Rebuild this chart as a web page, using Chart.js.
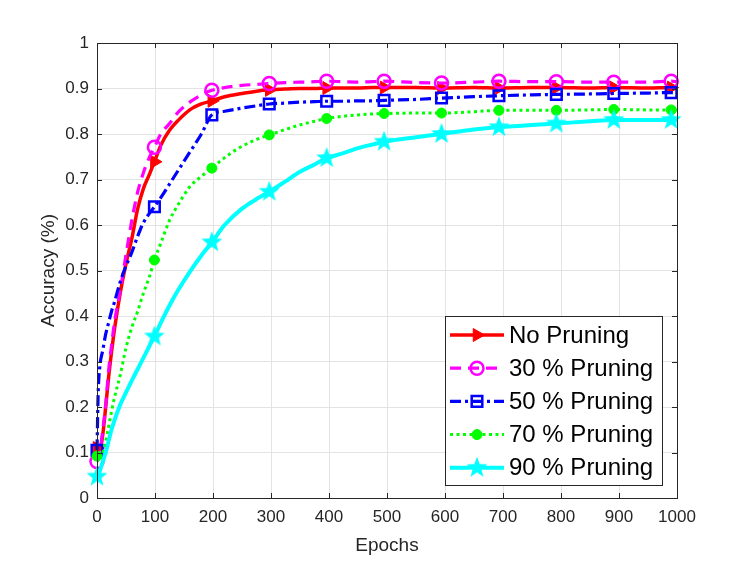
<!DOCTYPE html>
<html>
<head>
<meta charset="utf-8">
<script src="https://cdn.jsdelivr.net/npm/chart.js@4.4.0/dist/chart.umd.min.js"></script>
<style>
  body { margin: 0; background: #fff; }
  #wrap { width: 747px; height: 561px; }
</style>
</head>
<body>
<div id="wrap"><canvas id="accChart" width="747" height="561"></canvas></div>
<script>
// Values
const epochs = [0, 2, 5, 10, 15, 20, 25, 30, 40, 50, 60, 70, 80, 90, 99, 110, 125, 140, 160, 180, 198, 220, 250, 275, 297, 325, 350, 375, 396, 425, 450, 475, 495, 550, 594, 650, 693, 750, 792, 850, 891, 950, 990, 1000];

const noPruning = [0.11, 0.11, 0.108, 0.14, 0.2, 0.265, 0.32, 0.37, 0.45, 0.515, 0.57, 0.635, 0.68, 0.71, 0.739, 0.775, 0.808, 0.83, 0.853, 0.866, 0.873, 0.882, 0.889, 0.894, 0.897, 0.899, 0.9, 0.9, 0.901, 0.901, 0.901, 0.902, 0.902, 0.902, 0.901, 0.902, 0.901, 0.902, 0.902, 0.901, 0.902, 0.901, 0.902, 0.902];
const pruning30 = [0.08, 0.085, 0.1, 0.15, 0.205, 0.28, 0.335, 0.385, 0.455, 0.535, 0.61, 0.672, 0.715, 0.748, 0.771, 0.8, 0.823, 0.848, 0.87, 0.886, 0.896, 0.902, 0.907, 0.909, 0.911, 0.913, 0.914, 0.915, 0.916, 0.915, 0.914, 0.915, 0.916, 0.913, 0.912, 0.914, 0.916, 0.915, 0.915, 0.914, 0.914, 0.914, 0.916, 0.915];
const pruning50 = [0.105, 0.23, 0.29, 0.325, 0.36, 0.385, 0.41, 0.43, 0.475, 0.51, 0.54, 0.575, 0.605, 0.625, 0.64, 0.66, 0.69, 0.72, 0.76, 0.8, 0.842, 0.85, 0.857, 0.862, 0.866, 0.868, 0.87, 0.871, 0.872, 0.872, 0.873, 0.873, 0.874, 0.876, 0.879, 0.882, 0.884, 0.886, 0.887, 0.888, 0.889, 0.89, 0.891, 0.891];
const pruning70 = [0.092, 0.093, 0.095, 0.1, 0.125, 0.157, 0.19, 0.22, 0.27, 0.33, 0.375, 0.41, 0.45, 0.485, 0.523, 0.56, 0.61, 0.645, 0.684, 0.707, 0.725, 0.748, 0.773, 0.788, 0.798, 0.81, 0.82, 0.828, 0.834, 0.839, 0.842, 0.844, 0.845, 0.846, 0.846, 0.849, 0.852, 0.852, 0.852, 0.853, 0.854, 0.853, 0.853, 0.853];
const pruning90 = [0.047, 0.05, 0.06, 0.08, 0.1, 0.125, 0.15, 0.17, 0.205, 0.232, 0.258, 0.283, 0.308, 0.333, 0.355, 0.385, 0.423, 0.457, 0.497, 0.533, 0.562, 0.6, 0.636, 0.657, 0.673, 0.696, 0.717, 0.733, 0.747, 0.758, 0.769, 0.777, 0.783, 0.793, 0.8, 0.81, 0.815, 0.82, 0.823, 0.828, 0.831, 0.831, 0.831, 0.83];

const seriesLabels = ['No Pruning', '30 % Pruning', '50 % Pruning', '70 % Pruning', '90 % Pruning'];
const xTicks = [0, 100, 200, 300, 400, 500, 600, 700, 800, 900, 1000];
const yTicks = [0, 0.1, 0.2, 0.3, 0.4, 0.5, 0.6, 0.7, 0.8, 0.9, 1];

const markerEvery = 99;
const textColor = '#262626';
const font = 'Liberation Sans, Arial, Helvetica, sans-serif';

// filled five point star, like the MATLAB pentagram marker
function makeStar(color, r) {
    const c = document.createElement('canvas');
    const size = Math.ceil(r * 2 + 2);
    c.width = size;
    c.height = size;
    const g = c.getContext('2d');
    const inner = r * 0.42;
    g.beginPath();
    for (let i = 0; i < 10; i++) {
        const rad = i % 2 === 0 ? r : inner;
        const a = -Math.PI / 2 + i * Math.PI / 5;
        const px = size / 2 + rad * Math.cos(a);
        const py = size / 2 + rad * Math.sin(a);
        if (i === 0) g.moveTo(px, py); else g.lineTo(px, py);
    }
    g.closePath();
    g.fillStyle = color;
    g.fill();
    return c;
}
const starImg = makeStar('#00ffff', 11);

const styles = [
    { color: '#ff0000', width: 3.5, dash: [], point: 'triangle', rot: 90, radius: 7.5, fill: '#ff0000', bw: 1 },
    { color: '#ff00ff', width: 3.2, dash: [11, 7], point: 'circle', rot: 0, radius: 6.5, fill: 'rgba(0,0,0,0)', bw: 2.5 },
    { color: '#0000ff', width: 3.2, dash: [11, 4, 3, 4], point: 'rect', rot: 0, radius: 7.5, fill: 'rgba(0,0,0,0)', bw: 2.5 },
    { color: '#00ff00', width: 3, dash: [3, 3.5], point: 'circle', rot: 0, radius: 5, fill: '#00ff00', bw: 1 },
    { color: '#00ffff', width: 4, dash: [], point: starImg, rot: 0, radius: 10, fill: '#00ffff', bw: 1 }
];

const allSeries = [noPruning, pruning30, pruning50, pruning70, pruning90];

const datasets = allSeries.map((vals, i) => {
    const s = styles[i];
    return {
        label: seriesLabels[i],
        data: vals.map((v, j) => ({ x: epochs[j], y: v })),
        borderColor: s.color,
        backgroundColor: s.fill,
        borderWidth: s.width,
        borderDash: s.dash,
        pointStyle: s.point,
        pointRotation: s.rot,
        pointBorderColor: s.color,
        pointBackgroundColor: s.fill,
        pointBorderWidth: s.bw,
        pointRadius: ctx => (epochs[ctx.dataIndex] % markerEvery === 0 ? s.radius : 0),
        pointHoverRadius: 0,
        cubicInterpolationMode: 'monotone',
        fill: false,
        clip: false,
        order: allSeries.length - i
    };
});

// box with inward ticks on all four sides
const framePlugin = {
    id: 'frame',
    afterDatasetsDraw(chart) {
        const { ctx, chartArea: a, scales } = chart;
        ctx.save();
        ctx.strokeStyle = textColor;
        ctx.lineWidth = 1;
        ctx.setLineDash([]);
        ctx.strokeRect(a.left + 0.5, a.top + 0.5, a.right - a.left, a.bottom - a.top);
        const len = 5;
        ctx.beginPath();
        xTicks.forEach(v => {
            const px = Math.round(scales.x.getPixelForValue(v)) + 0.5;
            ctx.moveTo(px, a.bottom); ctx.lineTo(px, a.bottom - len);
            ctx.moveTo(px, a.top); ctx.lineTo(px, a.top + len);
        });
        yTicks.forEach(v => {
            const py = Math.round(scales.y.getPixelForValue(v)) + 0.5;
            ctx.moveTo(a.left, py); ctx.lineTo(a.left + len, py);
            ctx.moveTo(a.right, py); ctx.lineTo(a.right - len, py);
        });
        ctx.stroke();
        ctx.restore();
    }
};

// legend box in the lower right of the axes
const legendPlugin = {
    id: 'boxLegend',
    afterDraw(chart) {
        const { ctx, chartArea: a } = chart;
        const boxW = 217, boxH = 169;
        const bx = a.right - 15 - boxW;
        const by = a.bottom - 13 - boxH;
        ctx.save();
        ctx.fillStyle = '#fff';
        ctx.fillRect(bx, by, boxW, boxH);
        ctx.strokeStyle = textColor;
        ctx.lineWidth = 1;
        ctx.strokeRect(bx + 0.5, by + 0.5, boxW, boxH);
        ctx.font = '24px ' + font;
        ctx.textBaseline = 'middle';
        seriesLabels.forEach((lab, i) => {
            const s = styles[i];
            const y = by + 19 + i * 33.2;
            ctx.strokeStyle = s.color;
            ctx.lineWidth = s.width;
            ctx.setLineDash(s.dash);
            ctx.beginPath();
            ctx.moveTo(bx + 5, y);
            ctx.lineTo(bx + 59, y);
            ctx.stroke();
            ctx.setLineDash([]);
            ctx.fillStyle = s.fill;
            ctx.strokeStyle = s.color;
            ctx.lineWidth = s.bw;
            Chart.helpers.drawPoint(ctx, { pointStyle: s.point, rotation: s.rot, radius: s.radius, borderWidth: s.bw }, bx + 32, y);
            ctx.fillStyle = '#000';
            ctx.fillText(lab, bx + 64, y + 1);
        });
        ctx.restore();
    }
};

new Chart(document.getElementById('accChart'), {
    type: 'line',
    data: { datasets: datasets },
    options: {
        responsive: false,
        animation: false,
        events: [],
        layout: { padding: { left: 0, top: 43, right: 70, bottom: 0 } },
        plugins: {
            legend: { display: false },
            tooltip: { enabled: false }
        },
        scales: {
            x: {
                type: 'linear',
                min: 0,
                max: 1000,
                afterFit: scale => { scale.height = 63; },
                afterBuildTicks: scale => { scale.ticks = xTicks.map(v => ({ value: v })); },
                grid: { color: '#e3e3e3', lineWidth: 1, drawTicks: false },
                border: { display: false },
                ticks: {
                    color: textColor,
                    font: { family: font, size: 17 },
                    padding: 9,
                    maxRotation: 0,
                    callback: v => String(v)
                },
                title: {
                    display: true,
                    text: 'Epochs',
                    color: textColor,
                    font: { family: font, size: 19 },
                    padding: { top: 4, bottom: 4 }
                }
            },
            y: {
                type: 'linear',
                min: 0,
                max: 1,
                afterFit: scale => { scale.width = 97; },
                afterBuildTicks: scale => { scale.ticks = yTicks.map(v => ({ value: v })); },
                grid: { color: '#e3e3e3', lineWidth: 1, drawTicks: false },
                border: { display: false },
                ticks: {
                    color: textColor,
                    font: { family: font, size: 17 },
                    padding: 8,
                    callback: v => String(Math.round(v * 10) / 10)
                },
                title: {
                    display: true,
                    text: 'Accuracy (%)',
                    color: textColor,
                    font: { family: font, size: 19 },
                    padding: { top: 37, bottom: 37 }
                }
            }
        }
    },
    plugins: [framePlugin, legendPlugin]
});
</script>
</body>
</html>
